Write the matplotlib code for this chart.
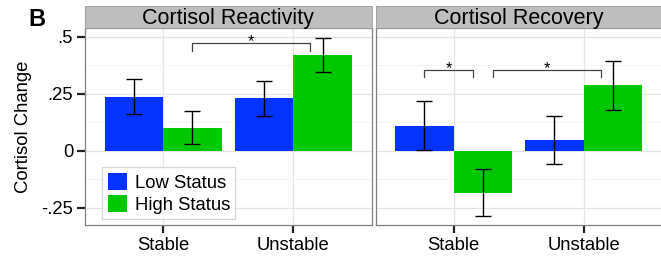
import matplotlib
matplotlib.use("Agg")
import matplotlib.pyplot as plt
import numpy as np

plt.rcParams['font.family'] = ['Liberation Sans', 'DejaVu Sans']

categories = ["Stable", "Unstable"]
groups = ["Low Status", "High Status"]
panels = ["Cortisol Reactivity", "Cortisol Recovery"]

react_low = [0.237, 0.230]
react_low_se = [0.076, 0.076]
react_high = [0.101, 0.420]
react_high_se = [0.071, 0.076]

recov_low = [0.110, 0.046]
recov_low_se = [0.107, 0.104]
recov_high = [-0.184, 0.287]
recov_high_se = [0.102, 0.107]

yticks = [-0.25, 0, 0.25, 0.5]
ytick_labels = ["-.25", "0", ".25", ".5"]

# significance brackets: (x1, x2, y)
react_brackets = [(1.22, 2.13, 0.471)]
recov_brackets = [(0.77, 1.15, 0.354), (1.30, 2.13, 0.354)]

blue = "#0433FF"
green = "#00C800"

W, H = 661, 257
fig = plt.figure(figsize=(W / 100, H / 100), dpi=100)

def fx(px):
    return px / W

def fy(py):
    return 1 - py / H

panel_x = [(85, 371.5), (375.7, 661.7)]
top, bottom, strip_top = 28, 225, 6

data = [
    (react_low, react_low_se, react_high, react_high_se, react_brackets),
    (recov_low, recov_low_se, recov_high, recov_high_se, recov_brackets),
]

x = np.arange(1, len(categories) + 1)
bw = 0.45
for i, ((x0, x1), title, (lo, lo_se, hi, hi_se, brackets)) in enumerate(zip(panel_x, panels, data)):
    ax = fig.add_axes([fx(x0), fy(bottom), fx(x1 - x0), (bottom - top) / H])
    ax.set_xlim(0.4, 2.6)
    ax.set_ylim(-0.326, 0.538)
    ax.set_yticks(yticks)
    ax.set_yticks([-0.125, 0.125, 0.375], minor=True)
    ax.set_xticks(x)
    ax.set_xticklabels(categories, fontsize=13.3)
    ax.grid(True, which='major', color='#E5E5E5', lw=0.9, zorder=0)
    ax.grid(True, which='minor', axis='y', color='#F2F2F2', lw=0.6, zorder=0)
    ax.set_axisbelow(True)
    for s in ax.spines.values():
        s.set_color('#808080')
        s.set_linewidth(0.9)
    ax.tick_params(axis='both', which='major', length=5.5, width=1.6, color='#222222',
                   labelsize=13.3, labelcolor='black', pad=3)
    ax.tick_params(axis='both', which='minor', length=0)
    if i == 0:
        ax.set_yticklabels(ytick_labels)
    else:
        ax.tick_params(axis='y', which='major', length=0, labelleft=False)

    ax.bar(x - bw / 2, lo, width=bw, color=blue, zorder=2, label=groups[0])
    ax.bar(x + bw / 2, hi, width=bw, color=green, zorder=2, label=groups[1])
    ax.errorbar(x - bw / 2, lo, yerr=lo_se, fmt='none', ecolor='black', elinewidth=1.0,
                capsize=6, capthick=1.0, zorder=3)
    ax.errorbar(x + bw / 2, hi, yerr=hi_se, fmt='none', ecolor='black', elinewidth=1.0,
                capsize=6, capthick=1.0, zorder=3)

    for (b1, b2, by) in brackets:
        ax.plot([b1, b1, b2, b2], [by - 0.033, by, by, by - 0.033], color='#444444', lw=0.9, zorder=3)
        ax.text((b1 + b2) / 2, by - 0.012, "*", ha='center', va='baseline', fontsize=12, color='black')

    if i == 0:
        ax.set_ylabel("Cortisol Change", fontsize=13.3, labelpad=7)
        leg = ax.legend(loc='lower left', bbox_to_anchor=(0.06, 0.03), fontsize=13.3,
                        frameon=True, fancybox=False, handlelength=1.05, handleheight=1.05,
                        handletextpad=0.4, borderpad=0.3, labelspacing=0.15,
                        borderaxespad=0.0)
        leg.get_frame().set_edgecolor('#CCCCCC')
        leg.get_frame().set_linewidth(0.9)

    sax = fig.add_axes([fx(x0), fy(top), fx(x1 - x0), (top - strip_top) / H])
    sax.set_facecolor('#BEBEBE')
    sax.set_xticks([])
    sax.set_yticks([])
    for s in sax.spines.values():
        s.set_color('#A0A0A0')
        s.set_linewidth(0.6)
    sax.text(0.5, 0.45, title, ha='center', va='center', fontsize=15.5, transform=sax.transAxes)

fig.text(fx(37), fy(19), "B", fontsize=17, fontweight='bold', ha='center', va='center')

fig.savefig("out.png", dpi=100)
